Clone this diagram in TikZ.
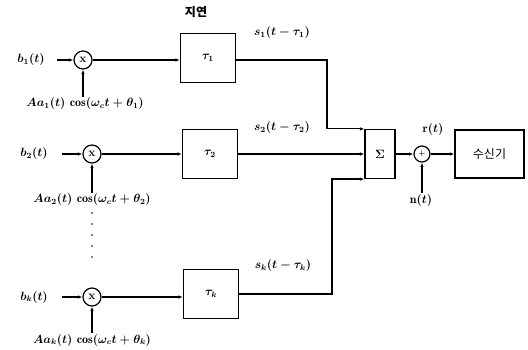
\documentclass[tikz,border=0pt]{standalone}
\usepackage{fontspec}
\newfontfamily\kr{Noto Sans CJK KR}
\usetikzlibrary{arrows.meta}
\begin{document}
\begin{tikzpicture}[x=1pt,y=-1pt,
  line width=1.2pt,
  font=\fontsize{12}{14}\selectfont\boldmath,
  arr/.style={-{Latex[length=4.5pt,width=3.5pt]}},
  mix/.style={circle,draw,minimum size=18pt,inner sep=0pt},
  addc/.style={circle,draw,minimum size=16pt,inner sep=0pt},
  dbox/.style={draw,minimum width=55pt,minimum height=49pt,inner sep=0pt},
  lbl/.style={inner sep=1pt}]
\useasboundingbox (0,0) rectangle (528,350);
% delay title
\node[lbl] (title) at (196,12) {\kr\bfseries 지연};
% row 1
\node[lbl] (b1) at (31,60) {$b_1(t)$};
\node[mix] (m1) at (83,60) {$\mathbf{x}$};
\node[dbox] (d1) at (208,58) {$\tau_1$};
\node[lbl] (c1) at (85,104) {$Aa_1(t)\,\cos(\omega_c t+\theta_1)$};
\coordinate (c1t) at (83,97);
% row 2
\node[lbl] (b2) at (34,154) {$b_2(t)$};
\node[mix] (m2) at (92,154) {$\mathbf{x}$};
\node[dbox] (d2) at (210,154) {$\tau_2$};
\node[lbl] (c2) at (92,200) {$Aa_2(t)\,\cos(\omega_c t+\theta_2)$};
\coordinate (c2t) at (92,193);
% row 3
\node[lbl] (b3) at (34,297) {$b_k(t)$};
\node[mix] (m3) at (92,297) {$\mathbf{x}$};
\node[dbox] (d3) at (211,294) {$\tau_k$};
\node[lbl] (c3) at (92,340) {$Aa_k(t)\,\cos(\omega_c t+\theta_k)$};
\coordinate (c3t) at (92,333);
% dots
\foreach \yy in {213,224,235,246,257} \fill (92,\yy) circle (0.9pt);
% input arrows
\coordinate (i1) at (57,60);
\coordinate (i2) at (62,154);
\coordinate (i3) at (62,297);
\draw[arr] (i1) -- (m1);
\draw[arr] (i2) -- (m2);
\draw[arr] (i3) -- (m3);
\draw[arr] (c1t) -- (m1);
\draw[arr] (c2t) -- (m2);
\draw[arr] (c3t) -- (m3);
\draw[arr] (m1) -- (m1 -| d1.west);
\draw[arr] (m2) -- (m2 -| d2.west);
\draw[arr] (m3) -- (m3 -| d3.west);
% sum
\node[draw,minimum width=30pt,minimum height=49pt,inner sep=0pt] (S) at (380,154) {$\Sigma$};
\node[addc] (A) at (422,154) {\scriptsize$+$};
\node[draw,minimum width=69pt,minimum height=48pt,inner sep=0pt] (R) at (489.5,154) {\kr 수신기};
% delay outputs
\coordinate (k1) at (327,60);
\coordinate (k3) at (332,294);
\draw[arr] (d1.east |- k1) -- (k1) -- (k1 |- S.north) -- (S.north west);
\draw[arr] (d2.east) -- (S.west);
\draw[arr] (d3.east |- k3) -- (k3) -- (k3 |- S.south) -- (S.south west);
\node[lbl] (s1) at (282,33) {$s_1(t-\tau_1)$};
\node[lbl] (s2) at (282,128) {$s_2(t-\tau_2)$};
\node[lbl] (s3) at (283,266) {$s_k(t-\tau_k)$};
% adder
\draw[arr] (S.east) -- (A);
\draw[arr] (A) -- (R.west);
\node[lbl] (r) at (433,130) {$\mathrm{r}(t)$};
\node[lbl] (n) at (421,201) {$\mathrm{n}(t)$};
\coordinate (nt) at (422,193);
\draw[arr] (nt) -- (A);
\end{tikzpicture}
\end{document}
